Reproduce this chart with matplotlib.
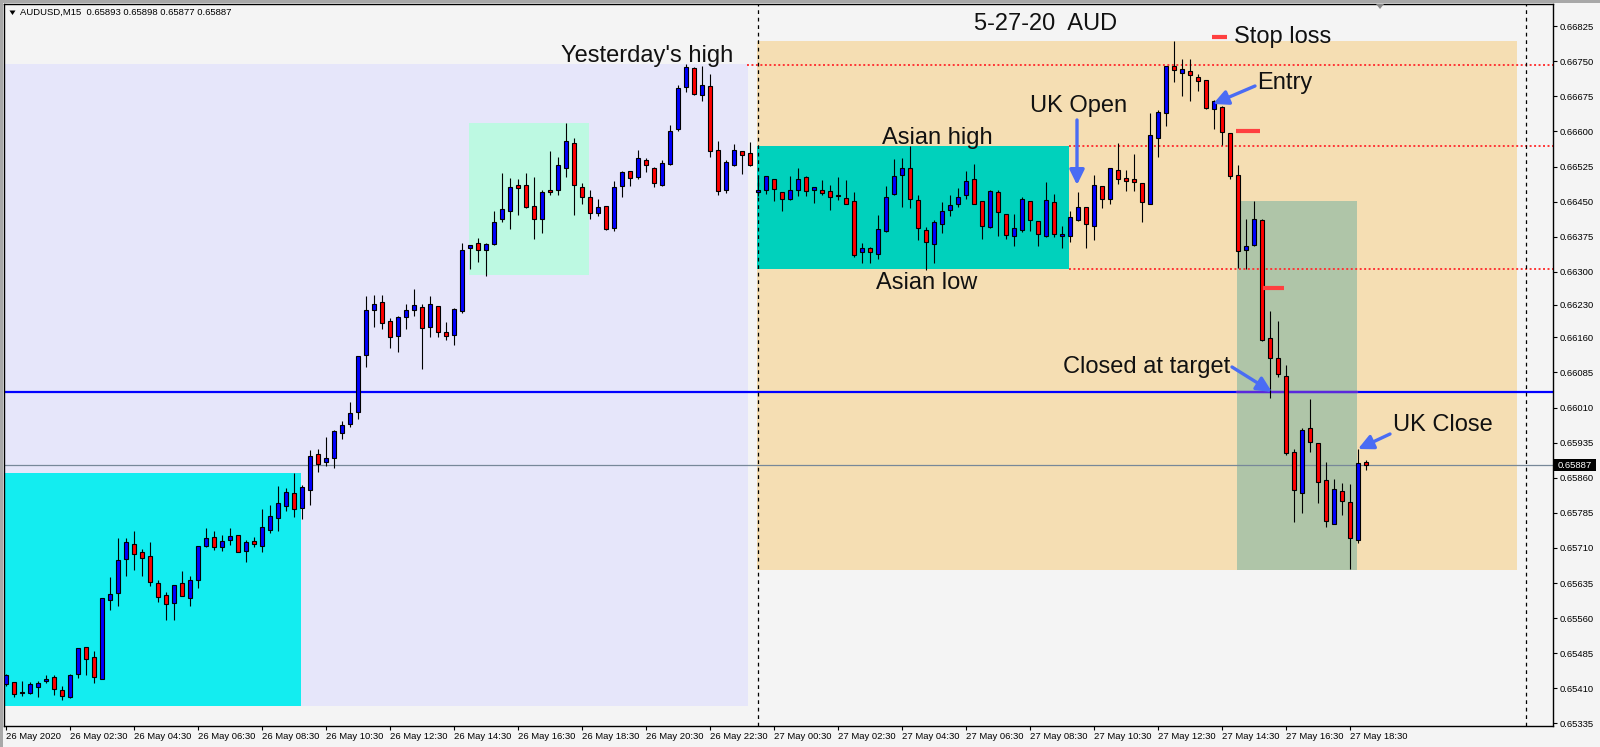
import matplotlib.pyplot as plt
from matplotlib.patches import Rectangle, FancyArrowPatch, Polygon

plt.rcParams['font.family'] = ['Liberation Sans', 'DejaVu Sans']

# AUDUSD M15, 26 May 00:30 .. 27 May 19:00 (bar index = 15 min step)
opens = [0.65419, 0.65423, 0.65402, 0.65399, 0.65413, 0.65425, 0.65434, 0.65406, 0.65392, 0.65441,
         0.65498, 0.65476, 0.65431, 0.65599, 0.65614, 0.65687, 0.65718, 0.65701, 0.65692, 0.65635,
         0.65609, 0.65593, 0.65635, 0.65604, 0.65642, 0.65715, 0.65733, 0.65711, 0.65726, 0.65737,
         0.65704, 0.65724, 0.65715, 0.65749, 0.65775, 0.65800, 0.65827, 0.65796, 0.65834, 0.65910,
         0.65894, 0.65903, 0.65956, 0.65974, 0.66000, 0.66123, 0.66219, 0.66236, 0.66195, 0.66164,
         0.66204, 0.66219, 0.66225, 0.66183, 0.66226, 0.66171, 0.66166, 0.66216, 0.66350, 0.66361,
         0.66347, 0.66360, 0.66412, 0.66429, 0.66485, 0.66485, 0.66440, 0.66414, 0.66475, 0.66474,
         0.66523, 0.66575, 0.66481, 0.66461, 0.66425, 0.66440, 0.66393, 0.66483, 0.66515, 0.66502,
         0.66538, 0.66523, 0.66485, 0.66530, 0.66605, 0.66694, 0.66735, 0.66677, 0.66697, 0.66560,
         0.66476, 0.66529, 0.66558, 0.66553, 0.66470, 0.66474, 0.66498, 0.66470, 0.66455, 0.66476,
         0.66502, 0.66476, 0.66476, 0.66472, 0.66464, 0.66457, 0.66451, 0.66343, 0.66350, 0.66339,
         0.66387, 0.66466, 0.66506, 0.66523, 0.66454, 0.66389, 0.66359, 0.66402, 0.66433, 0.66446,
         0.66464, 0.66498, 0.66451, 0.66395, 0.66470, 0.66423, 0.66376, 0.66389, 0.66451, 0.66408,
         0.66376, 0.66449, 0.66376, 0.66376, 0.66411, 0.66438, 0.66399, 0.66483, 0.66455, 0.66517,
         0.66500, 0.66498, 0.66489, 0.66446, 0.66587, 0.66639, 0.66741, 0.66726, 0.66729, 0.66717,
         0.66709, 0.66647, 0.66653, 0.66596, 0.66506, 0.66346, 0.66357, 0.66410, 0.66158, 0.66115,
         0.66077, 0.65914, 0.65828, 0.65966, 0.65934, 0.65855, 0.65762, 0.65831, 0.65808, 0.65728,
         0.65893]
highs = [0.65441, 0.65424, 0.65426, 0.65423, 0.65426, 0.65438, 0.65438, 0.65416, 0.65440, 0.65497,
         0.65499, 0.65490, 0.65603, 0.65648, 0.65731, 0.65731, 0.65746, 0.65708, 0.65723, 0.65641,
         0.65615, 0.65631, 0.65661, 0.65650, 0.65715, 0.65753, 0.65746, 0.65738, 0.65753, 0.65738,
         0.65726, 0.65733, 0.65793, 0.65802, 0.65842, 0.65838, 0.65870, 0.65844, 0.65919, 0.65921,
         0.65948, 0.65961, 0.65981, 0.66022, 0.66121, 0.66248, 0.66251, 0.66251, 0.66201, 0.66205,
         0.66231, 0.66263, 0.66231, 0.66248, 0.66227, 0.66193, 0.66222, 0.66361, 0.66358, 0.66372,
         0.66361, 0.66430, 0.66511, 0.66500, 0.66498, 0.66511, 0.66503, 0.66476, 0.66558, 0.66545,
         0.66618, 0.66586, 0.66490, 0.66475, 0.66455, 0.66441, 0.66494, 0.66516, 0.66516, 0.66560,
         0.66543, 0.66524, 0.66538, 0.66614, 0.66699, 0.66744, 0.66738, 0.66741, 0.66722, 0.66580,
         0.66539, 0.66573, 0.66559, 0.66578, 0.66500, 0.66505, 0.66499, 0.66471, 0.66505, 0.66522,
         0.66505, 0.66482, 0.66496, 0.66486, 0.66502, 0.66496, 0.66471, 0.66362, 0.66354, 0.66421,
         0.66484, 0.66541, 0.66544, 0.66569, 0.66464, 0.66395, 0.66411, 0.66450, 0.66464, 0.66479,
         0.66516, 0.66530, 0.66452, 0.66476, 0.66475, 0.66424, 0.66423, 0.66459, 0.66452, 0.66409,
         0.66491, 0.66466, 0.66398, 0.66430, 0.66470, 0.66439, 0.66508, 0.66484, 0.66523, 0.66575,
         0.66518, 0.66552, 0.66490, 0.66639, 0.66646, 0.66741, 0.66793, 0.66754, 0.66754, 0.66722,
         0.66710, 0.66667, 0.66654, 0.66597, 0.66528, 0.66414, 0.66451, 0.66412, 0.66216, 0.66195,
         0.66102, 0.65921, 0.65966, 0.66028, 0.65935, 0.65893, 0.65857, 0.65848, 0.65846, 0.65921,
         0.65898]
lows = [0.65415, 0.65392, 0.65394, 0.65398, 0.65392, 0.65422, 0.65396, 0.65385, 0.65390, 0.65433,
        0.65438, 0.65422, 0.65430, 0.65577, 0.65587, 0.65649, 0.65663, 0.65650, 0.65629, 0.65595,
        0.65555, 0.65557, 0.65607, 0.65587, 0.65625, 0.65711, 0.65706, 0.65704, 0.65717, 0.65701,
        0.65679, 0.65713, 0.65702, 0.65743, 0.65747, 0.65788, 0.65777, 0.65772, 0.65802, 0.65873,
        0.65886, 0.65881, 0.65943, 0.65969, 0.65986, 0.66097, 0.66183, 0.66177, 0.66138, 0.66129,
        0.66178, 0.66206, 0.66093, 0.66161, 0.66161, 0.66155, 0.66144, 0.66213, 0.66306, 0.66322,
        0.66292, 0.66358, 0.66407, 0.66392, 0.66421, 0.66437, 0.66371, 0.66384, 0.66465, 0.66465,
        0.66503, 0.66422, 0.66446, 0.66412, 0.66419, 0.66389, 0.66388, 0.66461, 0.66484, 0.66498,
        0.66513, 0.66482, 0.66484, 0.66529, 0.66602, 0.66684, 0.66679, 0.66666, 0.66546, 0.66465,
        0.66469, 0.66527, 0.66510, 0.66527, 0.66462, 0.66467, 0.66452, 0.66429, 0.66454, 0.66462,
        0.66462, 0.66448, 0.66464, 0.66432, 0.66454, 0.66445, 0.66331, 0.66320, 0.66318, 0.66327,
        0.66386, 0.66465, 0.66439, 0.66436, 0.66368, 0.66305, 0.66318, 0.66384, 0.66420, 0.66439,
        0.66455, 0.66445, 0.66370, 0.66394, 0.66377, 0.66370, 0.66355, 0.66386, 0.66388, 0.66355,
        0.66375, 0.66374, 0.66352, 0.66364, 0.66409, 0.66352, 0.66368, 0.66437, 0.66444, 0.66488,
        0.66473, 0.66473, 0.66407, 0.66445, 0.66545, 0.66612, 0.66706, 0.66676, 0.66666, 0.66687,
        0.66647, 0.66605, 0.66572, 0.66498, 0.66308, 0.66307, 0.66356, 0.66153, 0.66030, 0.66076,
        0.65908, 0.65766, 0.65784, 0.65914, 0.65807, 0.65754, 0.65761, 0.65781, 0.65664, 0.65720,
        0.65877]
closes = [0.65438, 0.65397, 0.65399, 0.65419, 0.65421, 0.65430, 0.65408, 0.65394, 0.65438, 0.65496,
          0.65473, 0.65435, 0.65602, 0.65612, 0.65684, 0.65722, 0.65697, 0.65689, 0.65638, 0.65606,
          0.65590, 0.65630, 0.65608, 0.65641, 0.65714, 0.65731, 0.65713, 0.65724, 0.65735, 0.65702,
          0.65722, 0.65719, 0.65754, 0.65778, 0.65805, 0.65829, 0.65794, 0.65840, 0.65906, 0.65889,
          0.65902, 0.65960, 0.65973, 0.65998, 0.66120, 0.66218, 0.66231, 0.66190, 0.66161, 0.66204,
          0.66218, 0.66229, 0.66179, 0.66231, 0.66172, 0.66164, 0.66221, 0.66346, 0.66357, 0.66346,
          0.66360, 0.66406, 0.66434, 0.66481, 0.66480, 0.66438, 0.66412, 0.66470, 0.66470, 0.66528,
          0.66579, 0.66485, 0.66459, 0.66425, 0.66438, 0.66391, 0.66481, 0.66513, 0.66500, 0.66543,
          0.66528, 0.66489, 0.66532, 0.66602, 0.66692, 0.66737, 0.66680, 0.66699, 0.66558, 0.66472,
          0.66534, 0.66560, 0.66549, 0.66528, 0.66475, 0.66504, 0.66478, 0.66456, 0.66475, 0.66498,
          0.66472, 0.66481, 0.66468, 0.66459, 0.66463, 0.66446, 0.66337, 0.66352, 0.66342, 0.66391,
          0.66461, 0.66504, 0.66521, 0.66455, 0.66393, 0.66363, 0.66406, 0.66429, 0.66442, 0.66459,
          0.66494, 0.66446, 0.66399, 0.66473, 0.66427, 0.66378, 0.66393, 0.66455, 0.66410, 0.66380,
          0.66453, 0.66380, 0.66380, 0.66417, 0.66439, 0.66403, 0.66485, 0.66455, 0.66521, 0.66498,
          0.66494, 0.66493, 0.66450, 0.66592, 0.66641, 0.66740, 0.66731, 0.66733, 0.66720, 0.66707,
          0.66650, 0.66665, 0.66598, 0.66505, 0.66344, 0.66355, 0.66413, 0.66154, 0.66115, 0.66082,
          0.65912, 0.65833, 0.65961, 0.65936, 0.65850, 0.65767, 0.65835, 0.65811, 0.65732, 0.65891,
          0.65887]

x_tick_bars = list(range(0, 169, 8))
x_tick_labels = ['26 May 2020', '26 May 02:30', '26 May 04:30', '26 May 06:30', '26 May 08:30',
                 '26 May 10:30', '26 May 12:30', '26 May 14:30', '26 May 16:30', '26 May 18:30',
                 '26 May 20:30', '26 May 22:30', '27 May 00:30', '27 May 02:30', '27 May 04:30',
                 '27 May 06:30', '27 May 08:30', '27 May 10:30', '27 May 12:30', '27 May 14:30',
                 '27 May 16:30', '27 May 18:30']
y_ticks = [0.66825, 0.66750, 0.66675, 0.66600, 0.66525, 0.66450, 0.66375, 0.66300, 0.66230,
           0.66160, 0.66085, 0.66010, 0.65935, 0.65860, 0.65785, 0.65710, 0.65635, 0.65560,
           0.65485, 0.65410, 0.65335]

# boxes: bar from, bar to, low, high, colour
zones = [
    (-1.0, 92.8, 0.65372, 0.66744, '#e6e6fa'),    # previous day range
    (-1.0, 36.9, 0.65372, 0.65870, '#13edf0'),
    (57.9, 72.9, 0.66294, 0.66618, '#bdf9e2'),
    (93.9, 188.9, 0.65663, 0.66793, '#f5deb3'),    # trading day
    (93.9, 132.9, 0.66306, 0.66569, '#00d1bc'),    # Asian session
    (153.9, 168.9, 0.65663, 0.66452, '#afc5a8'),   # trade
]
yesterday_high = 0.66742
asian_high = 0.66569
asian_low = 0.66306
blue_level = 0.66043
last_price = 0.65887
day_separators = [94, 190]

# short red level marks: bar from, bar to, price
marks = [(150.75, 152.6, 0.66801), (153.75, 156.75, 0.66600), (157.1, 159.75, 0.66266)]

# labels: text, bar, price (baseline), alignment
labels = [
    ('5-27-20  AUD', 121.0, 0.66817, 'left'),
    ("Yesterday's high", 69.4, 0.667485, 'left'),
    ('Stop loss', 153.5, 0.66790, 'left'),
    ('Entry', 156.4, 0.66691, 'left'),
    ('UK Open', 140.1, 0.66642, 'right'),
    ('Asian high', 109.5, 0.66573, 'left'),
    ('Asian low', 108.75, 0.66263, 'left'),
    ('Closed at target', 153.0, 0.660845, 'right'),
    ('UK Close', 173.4, 0.65960, 'left'),
]
# arrows: (bar, price) tail -> head
arrows = [
    ((133.875, 0.666246), (133.875, 0.664857)),
    ((156.125, 0.666972), (150.875, 0.666588)),
    ((153.25, 0.660967), (158.25, 0.660433)),
    ((173.0, 0.659535), (169.0, 0.659215)),
]

W, H = 1600, 747
fig = plt.figure(figsize=(W / 100, H / 100), dpi=100, facecolor='#f4f4f4')
ax = fig.add_axes([3.5 / W, 1 - 726 / H, (1553 - 3.5) / W, (726 - 3.5) / H])
ax.set_facecolor('#f4f4f4')
ax.set_xlim(-0.3125, 193.375)
ax.set_ylim(0.653295, 0.668735)

for x0, x1, lo, hi, col in zones:
    ax.add_patch(Rectangle((x0, lo), x1 - x0, hi - lo, facecolor=col, edgecolor='none', zorder=1))

ax.axhline(blue_level, color='#0000ff', lw=1.6, zorder=2)
ax.plot([153.9, 168.9], [blue_level, blue_level], color='#5a28dc', lw=1.6, zorder=2)
ax.axhline(last_price, color='#778899', lw=0.9, zorder=2)
ax.plot([92.6, 193.4], [yesterday_high] * 2, color='#ff3535', lw=1.4, ls=(0, (1, 1.3)), zorder=2)
ax.plot([132.9, 193.4], [asian_high] * 2, color='#ff3535', lw=1.4, ls=(0, (1, 1.3)), zorder=2)
ax.plot([132.9, 193.4], [asian_low] * 2, color='#ff3535', lw=1.4, ls=(0, (1, 1.3)), zorder=2)
for xs in day_separators:
    ax.axvline(xs, color='black', lw=0.9, ls=(0, (3, 3)), zorder=2)

for x0, x1, p in marks:
    ax.plot([x0, x1], [p, p], color='#ff4040', lw=3, solid_capstyle='butt', zorder=5)

# candles
bars = range(len(opens))
ax.vlines(list(bars), lows, highs, color='black', lw=0.8, zorder=3)
for i in bars:
    o, c = opens[i], closes[i]
    col = '#0000ff' if c >= o else '#ff0000'
    ax.add_patch(Rectangle((i - 0.25, min(o, c)), 0.5, abs(c - o), facecolor=col,
                           edgecolor='black', lw=0.8, zorder=4))

for txt, xb, p, ha in labels:
    ax.text(xb, p, txt, fontsize=17, ha=ha, va='baseline', color='#111111', zorder=6)

for tail, head in arrows:
    ax.add_patch(FancyArrowPatch(tail, head, arrowstyle='-|>,head_length=0.45,head_width=0.22',
                                 mutation_scale=20, lw=2.4, color='#4a6cf4', shrinkA=0, shrinkB=0,
                                 zorder=7))

# axes styling
for s in ax.spines.values():
    s.set_color('black')
    s.set_linewidth(1)
ax.yaxis.tick_right()
ax.set_yticks(y_ticks)
ax.set_yticklabels([f'{v:.5f}' for v in y_ticks])
ax.set_xticks(x_tick_bars)
ax.set_xticklabels(x_tick_labels, ha='left')
ax.tick_params(axis='y', direction='out', length=3, width=0.8, pad=2, labelsize=6.8)
ax.tick_params(axis='x', direction='out', length=3, width=0.8, pad=1.5, labelsize=6.8)

# current price tag
fig.patches.append(Rectangle((1554 / W, 1 - 471 / H), 42 / W, 11.5 / H, transform=fig.transFigure,
                             facecolor='black', edgecolor='none', zorder=5))
fig.text(1557.5 / W, 1 - 465.5 / H, '0.65887', color='white', fontsize=6.8, va='center', zorder=6)

# header
fig.text(20.5 / W, 1 - 12.7 / H, 'AUDUSD,M15  0.65893 0.65898 0.65877 0.65887', fontsize=6.8,
         va='center', color='black')
fig.patches.append(Polygon([(9.5 / W, 1 - 10.5 / H), (15.5 / W, 1 - 10.5 / H), (12.5 / W, 1 - 15 / H)],
                           closed=True, transform=fig.transFigure, facecolor='black', edgecolor='none'))
fig.patches.append(Polygon([(1376 / W, 1 - 4 / H), (1384 / W, 1 - 4 / H), (1380 / W, 1 - 9 / H)],
                           closed=True, transform=fig.transFigure, facecolor='#8a8a8a', edgecolor='none',
                           zorder=5))
fig.patches.append(Rectangle((0, 1 - 2.5 / H), 1, 2.5 / H, transform=fig.transFigure,
                             facecolor='#a8a8a8', edgecolor='none'))
fig.patches.append(Rectangle((0, 0), 2.5 / W, 1, transform=fig.transFigure,
                             facecolor='#a8a8a8', edgecolor='none'))

fig.savefig('out.png', dpi=100, facecolor=fig.get_facecolor())
